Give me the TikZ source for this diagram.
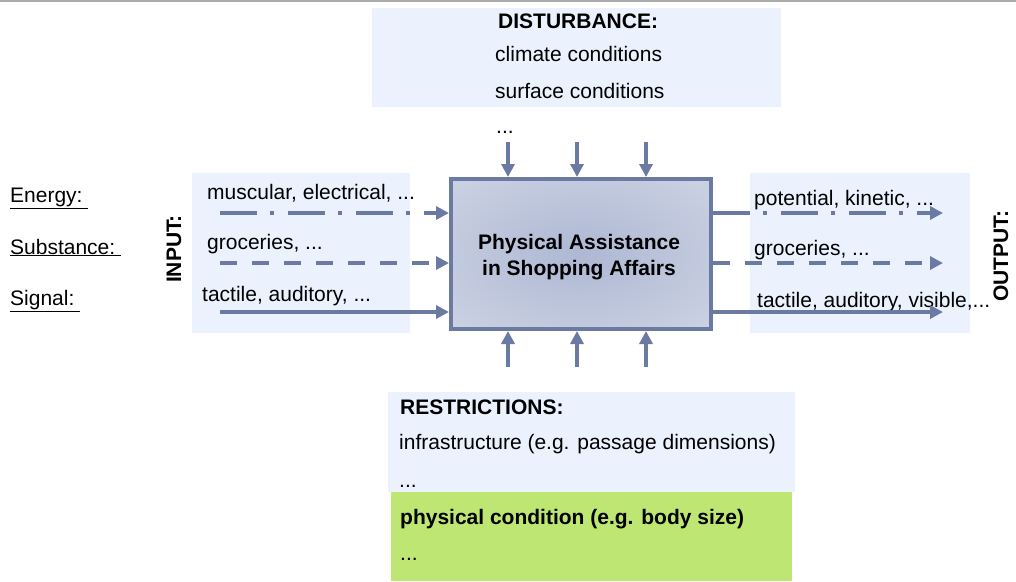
\documentclass[tikz,border=0pt]{standalone}
\usepackage{fontspec}
\setmainfont{Liberation Sans}
\usetikzlibrary{arrows.meta}
\definecolor{arr}{HTML}{6B7AA3}
\definecolor{lb}{HTML}{EBF1FD}
\definecolor{gr}{HTML}{BDE672}
\definecolor{boxin}{HTML}{AEB8D4}
\definecolor{boxmid}{HTML}{D6DBE8}
\definecolor{boxout}{HTML}{E3E6EF}
\pgfdeclareradialshading{sysshade}{\pgfpoint{0bp}{0bp}}{color(0bp)=(boxin); color(48bp)=(boxmid); color(72bp)=(boxout); color(100bp)=(boxout)}
\tikzset{
  txt/.style={font=\fontsize{21}{25}\selectfont, inner sep=0pt, anchor=base west},
  btxt/.style={txt, font=\fontsize{21}{25}\selectfont\bfseries},
  panel/.style={fill=lb, draw=none},
  flow/.style={draw=arr, line width=3.6pt, -{Triangle[length=13pt,width=13pt]}},
  energy/.style={flow, dash pattern=on 37pt off 13pt on 4pt off 14pt},
  matter/.style={flow, dash pattern=on 17pt off 15pt},
}
\begin{document}
\begin{tikzpicture}[x=1pt,y=-1pt]
\useasboundingbox (0,0) rectangle (1016,581);
% top rule
\draw[color=black!33, line width=2pt] (0,0.5) -- (1016,0.5);
% panels
\fill[panel] (372,8) rectangle (781,107);
\fill[panel] (192,173) rectangle (410,333);
\fill[panel] (750,173) rectangle (970,333);
\fill[panel] (388,392) rectangle (795,492);
\fill[gr] (391,492) rectangle (792,581);
% main box
\node[draw=arr, line width=4pt, shading=sysshade,
      minimum width=260pt, minimum height=150pt, inner sep=0pt] (sys) at (581,254) {};
\node[font=\fontsize{21}{26}\selectfont\bfseries, align=center, inner sep=0pt] (title) at (579,257)
  {Physical Assistance\\in Shopping Affairs};
% disturbance
\node[btxt] (dh) at (498,28) {DISTURBANCE:};
\node[txt] (d1) at (495,61) {climate conditions};
\node[txt] (d2) at (495,98) {surface conditions};
\node[txt] (d3) at (496,133) {...};
\coordinate (da) at (508,142);
\coordinate (db) at (577,142);
\coordinate (dc) at (646,142);
\draw[flow] (da) -- (da |- sys.north);
\draw[flow] (db) -- (db |- sys.north);
\draw[flow] (dc) -- (dc |- sys.north);
% restrictions
\coordinate (ra) at (508,367);
\coordinate (rb) at (577,367);
\coordinate (rc) at (646,367);
\draw[flow] (ra) -- (ra |- sys.south);
\draw[flow] (rb) -- (rb |- sys.south);
\draw[flow] (rc) -- (rc |- sys.south);
\node[btxt] (rh) at (400,414) {RESTRICTIONS:};
\node[txt] (r1) at (399,449) {infrastructure (e.g. passage dimensions)};
\node[txt] (r2) at (399,487) {...};
\node[btxt] (r3) at (400,524) {physical condition (e.g. body size)};
\node[txt] (r4) at (400,560) {...};
% left labels
\node[txt] (le) at (10,202) {\underline{Energy:\ }};
\node[txt] (ls) at (10,254) {\underline{Substance:\ }};
\node[txt] (lg) at (10,305) {\underline{Signal:\ }};
\node[font=\fontsize{21}{25}\selectfont\bfseries, inner sep=0pt, rotate=90] (inp) at (174,249) {INPUT:};
\node[font=\fontsize{21}{25}\selectfont\bfseries, inner sep=0pt, rotate=90] (outp) at (1001,256) {OUTPUT:};
% inputs
\node[txt] (i1) at (207,199) {muscular, electrical, ...};
\node[txt] (i2) at (207,249) {groceries, ...};
\node[txt] (i3) at (202,301) {tactile, auditory, ...};
\coordinate (ia) at (220,213);
\coordinate (ib) at (220,263);
\coordinate (ic) at (220,312);
\draw[energy] (ia) -- (ia -| sys.west);
\draw[matter] (ib) -- (ib -| sys.west);
\draw[flow] (ic) -- (ic -| sys.west);
% outputs
\node[txt] (o1) at (754,205) {potential, kinetic, ...};
\node[txt] (o2) at (754,255) {groceries, ...};
\node[txt] (o3) at (757,307) {tactile, auditory, visible,...};
\coordinate (oa) at (943,213);
\coordinate (ob) at (943,263);
\coordinate (oc) at (943,312);
\draw[energy] (oa -| sys.east) -- (oa);
\draw[matter] (ob -| sys.east) -- (ob);
\draw[flow] (oc -| sys.east) -- (oc);
\end{tikzpicture}
\end{document}
